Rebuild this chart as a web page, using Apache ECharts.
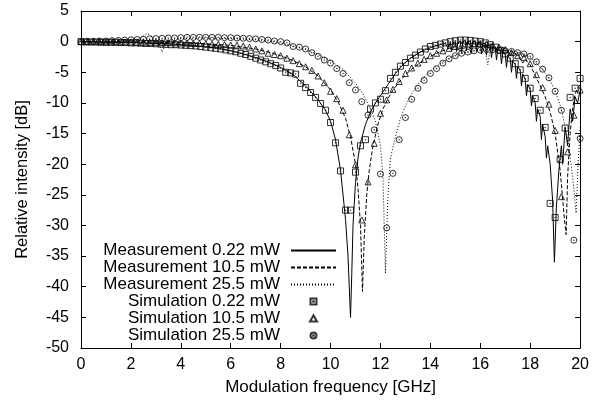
<!DOCTYPE html>
<html><head><meta charset="utf-8">
<script src="https://cdn.jsdelivr.net/npm/echarts@6/dist/echarts.min.js"></script>
<style>html,body{margin:0;padding:0;background:#fff}#c{width:592px;height:403px}</style>
</head><body><div id="c"></div>
<script>
// ---------- data ----------
const xTicks = [0,2,4,6,8,10,12,14,16,18,20];
const yTicks = [5,0,-5,-10,-15,-20,-25,-30,-35,-40,-45,-50];
const seriesNames = ['Measurement 0.22 mW','Measurement 10.5 mW','Measurement 25.5 mW','Simulation 0.22 mW','Simulation 10.5 mW','Simulation 25.5 mW'];

// Measurement 0.22 mW  [GHz, dB]
const meas022 = [[0,0],[0.5,-0.05],[1,-0.1],[1.5,-0.1],[2,-0.15],[2.5,-0.2],[3,-0.3],[3.5,-0.35],[4,-0.5],[4.5,-0.6],[5,-0.85],[5.5,-1.1],[6,-1.5],[6.5,-2.0],[7,-2.6],[7.5,-3.3],[8,-4.2],[8.5,-5.4],[9,-7.2],[9.5,-9.5],[9.8,-11.2],[10,-13],[10.2,-16],[10.4,-21],[10.6,-29],[10.7,-35],[10.8,-45],[10.85,-38],[10.9,-30],[11.0,-23],[11.1,-19],[11.2,-16.5],[11.4,-13.5],[11.6,-11.5],[11.8,-10],[12,-8.8],[12.2,-7.6],[12.4,-6.4],[12.6,-5.2],[12.8,-4.2],[13,-3.4],[13.2,-2.7],[13.4,-2.2],[13.6,-1.7],[13.8,-1.3],[14,-1.0],[14.2,-0.7],[14.4,-0.5],[14.6,-0.3],[14.7,-1.0],[14.8,-0.1],[14.85,-1.5],[14.9,-0.2],[15.0,0],[15.05,-1.6],[15.1,-0.2],[15.2,0.1],[15.25,-1.8],[15.3,0],[15.4,0.2],[15.45,-1.5],[15.5,0],[15.6,0.1],[15.65,-1.9],[15.7,0],[15.8,0],[15.85,-1.6],[15.9,-0.1],[16.0,-0.1],[16.05,-2.0],[16.1,-0.3],[16.2,-0.3],[16.25,-2.2],[16.3,-0.5],[16.4,-0.6],[16.45,-2.6],[16.5,-0.9],[16.6,-1.0],[16.65,-3.0],[16.7,-1.3],[16.8,-1.5],[16.85,-3.6],[16.9,-1.8],[17.0,-2.1],[17.05,-4.2],[17.1,-2.4],[17.2,-2.8],[17.25,-5.0],[17.3,-3.2],[17.4,-3.7],[17.45,-6.0],[17.5,-4.1],[17.6,-4.7],[17.65,-7.2],[17.7,-5.3],[17.8,-6.1],[17.85,-8.8],[17.9,-7.0],[18.0,-7.8],[18.05,-10.5],[18.1,-8.8],[18.2,-10],[18.25,-13],[18.3,-11],[18.4,-12.2],[18.45,-16],[18.5,-13.5],[18.6,-15.5],[18.65,-19],[18.7,-17],[18.8,-20],[18.9,-26],[18.97,-36],[19.05,-27],[19.15,-21],[19.25,-17],[19.3,-20],[19.4,-14],[19.5,-17],[19.6,-11],[19.7,-13],[19.8,-9],[19.9,-10],[20,-8]];

// Measurement 10.5 mW
const meas105 = [[0,0],[1,0],[2,-0.05],[3,-0.1],[4,-0.2],[5,-0.35],[6,-0.6],[6.5,-0.9],[7,-1.2],[7.5,-1.7],[8,-2.3],[8.5,-3.1],[9,-4.1],[9.5,-5.6],[10,-7.9],[10.3,-9.8],[10.6,-12.5],[10.8,-15.5],[11.0,-20],[11.1,-24],[11.2,-30],[11.28,-40.8],[11.35,-32],[11.45,-25],[11.55,-21],[11.7,-17],[11.9,-13.5],[12.1,-11],[12.3,-9.3],[12.5,-7.9],[12.75,-6.6],[13,-5.4],[13.25,-4.5],[13.5,-3.7],[13.75,-3.0],[14,-2.4],[14.25,-1.9],[14.5,-1.5],[14.75,-1.1],[15,-0.8],[15.2,-1.5],[15.3,-0.5],[15.5,-0.4],[15.6,-1.2],[15.7,-0.3],[16,-0.2],[16.2,-1],[16.3,-0.3],[16.5,-0.5],[16.7,-1.5],[16.8,-0.8],[17,-1.2],[17.2,-2.2],[17.3,-1.6],[17.5,-2.2],[17.7,-3.5],[17.8,-2.9],[18,-3.8],[18.2,-5.5],[18.4,-7.2],[18.6,-9],[18.8,-11.5],[19,-15],[19.2,-21],[19.35,-28],[19.44,-31.5],[19.5,-22],[19.6,-15],[19.7,-11],[19.8,-8.5],[19.9,-7.6],[20,-7]];

// Measurement 25.5 mW
const meas255 = [[0,0],[0.5,0],[1,0.1],[1.5,0.1],[2,0.2],[2.3,0.4],[2.5,0.9],[2.65,1.3],[2.8,1.0],[3.0,0.3],[3.15,-0.5],[3.25,-1.7],[3.35,-0.8],[3.5,0],[3.7,0.4],[4,0.5],[5,0.6],[6,0.5],[6.5,0.4],[7,0.3],[7.5,0.1],[8,-0.2],[8.5,-0.7],[9,-1.3],[9.5,-2.1],[10,-3.1],[10.5,-4.5],[11,-6.8],[11.3,-8.5],[11.6,-11],[11.8,-13],[12.0,-17],[12.1,-22],[12.2,-37.8],[12.3,-25],[12.4,-19],[12.6,-15.5],[12.8,-12.5],[13,-10.5],[13.25,-8.5],[13.5,-7],[13.75,-5.8],[14,-4.8],[14.25,-4],[14.5,-3.3],[14.75,-2.7],[15,-2.2],[15.25,-1.9],[15.5,-1.7],[15.75,-1.5],[16,-1.4],[16.2,-1.3],[16.3,-3.8],[16.4,-1.3],[16.75,-1.3],[17,-1.4],[17.25,-1.5],[17.5,-1.7],[17.75,-2.1],[18,-2.6],[18.25,-3.5],[18.5,-4.6],[18.75,-6],[19,-8],[19.25,-11],[19.5,-16],[19.7,-22],[19.84,-28],[19.92,-20],[20,-14]];

// Simulation 0.22 mW (0.2 GHz steps)
const simFreqA = [0,0.2,0.4,0.6,0.8,1,1.2,1.4,1.6,1.8,2,2.2,2.4,2.6,2.8,3,3.2,3.4,3.6,3.8,4,4.2,4.4,4.6,4.8,5,5.2,5.4,5.6,5.8,6,6.2,6.4,6.6,6.8,7,7.2,7.4,7.6,7.8,8,8.2,8.4,8.6,8.8,9,9.2,9.4,9.6,9.8,10,10.2,10.4,10.6,10.8,11,11.2,11.4,11.6,11.8,12,12.2,12.4,12.6,12.8,13,13.2,13.4,13.6,13.8,14,14.2,14.4,14.6,14.8,15,15.2,15.4,15.6,15.8,16,16.2,16.4,16.6,16.8,17,17.2,17.4,17.6,17.8,18,18.2,18.4,18.6,18.8,19,19.2,19.4,19.6,19.8,20];
const sim022 = [0,-0.05,-0.05,-0.05,-0.1,-0.1,-0.1,-0.1,-0.15,-0.15,-0.2,-0.2,-0.25,-0.3,-0.3,-0.35,-0.4,-0.45,-0.5,-0.5,-0.55,-0.6,-0.65,-0.7,-0.8,-0.9,-1.0,-1.1,-1.2,-1.35,-1.5,-1.65,-1.9,-2.1,-2.4,-2.7,-3.0,-3.3,-3.6,-3.9,-4.3,-5.0,-5.1,-5.3,-6.8,-7.5,-8.3,-9.1,-10.1,-11.2,-13.2,-16.5,-21.1,-27.5,-27.5,-21.3,-17.0,-16.0,-11.0,-10.0,-9.4,-8.0,-6.0,-5.0,-4.0,-3.4,-2.7,-2.2,-1.7,-1.2,-0.8,-0.6,-0.4,-0.2,0,0.15,0.25,0.25,0.2,0.1,0,-0.2,-0.5,-0.9,-1.4,-2.0,-2.7,-3.6,-4.6,-6.0,-7.6,-9.3,-11.2,-14.0,-26.4,-28.7,-19.2,-14.1,-9.1,-7.6,-6.0];

// Simulation 10.5 mW and 25.5 mW (0.25 GHz steps)
const simFreqB = [0,0.25,0.5,0.75,1,1.25,1.5,1.75,2,2.25,2.5,2.75,3,3.25,3.5,3.75,4,4.25,4.5,4.75,5,5.25,5.5,5.75,6,6.25,6.5,6.75,7,7.25,7.5,7.75,8,8.25,8.5,8.75,9,9.25,9.5,9.75,10,10.25,10.5,10.75,11,11.25,11.5,11.75,12,12.25,12.5,12.75,13,13.25,13.5,13.75,14,14.25,14.5,14.75,15,15.25,15.5,15.75,16,16.25,16.5,16.75,17,17.25,17.5,17.75,18,18.25,18.5,18.75,19,19.25,19.5,19.75,20];
const sim105 = [0,0,0,0,-0.05,-0.05,-0.05,-0.05,-0.05,-0.1,-0.1,-0.1,-0.1,-0.15,-0.15,-0.2,-0.2,-0.25,-0.3,-0.3,-0.35,-0.4,-0.45,-0.5,-0.55,-0.55,-0.7,-0.9,-1.2,-1.5,-1.9,-2.1,-2.3,-2.7,-3.1,-3.6,-4.1,-4.7,-5.6,-6.7,-8.1,-9.3,-11.2,-15.2,-20.1,-29.1,-22.9,-16.6,-11.7,-9.5,-7.8,-6.5,-5.2,-4.3,-3.5,-2.9,-2.3,-1.9,-1.5,-1.1,-0.8,-0.6,-0.4,-0.3,-0.3,-0.4,-0.6,-0.9,-1.3,-1.8,-2.3,-2.6,-3.6,-5.4,-7.5,-10.2,-14.5,-25.3,-18,-12,-7.9];
const sim255 = [0,0.05,0.05,0.1,0.1,0.15,0.2,0.25,0.3,0.35,0.4,0.45,0.5,0.55,0.6,0.6,0.65,0.7,0.7,0.7,0.7,0.7,0.7,0.65,0.65,0.6,0.55,0.5,0.45,0.35,0.25,0.1,0,-0.2,-0.8,-0.9,-1.2,-1.8,-2.4,-3.0,-3.5,-4.4,-5.2,-6.7,-7.9,-9.8,-12.0,-14.4,-21.6,-30.4,-21.5,-16.0,-12.4,-9.4,-7.6,-6.3,-5.2,-4.4,-3.5,-2.8,-2.3,-1.9,-1.7,-1.5,-1.4,-1.3,-1.3,-1.4,-1.5,-1.6,-1.8,-2.0,-2.4,-3.3,-4.5,-5.9,-8.1,-11.2,null,-32.4,-15.8];

// ---------- chart ----------
const font = 'Liberation Sans, Arial, sans-serif';
function pairs(fx, vy){ return fx.map((f,i)=>[f, vy[i]]); }
const chart = echarts.init(document.getElementById('c'), null, {renderer:'canvas'});
const axisCommon = {
  axisLine:{show:true, onZero:false, lineStyle:{color:'#000', width:1}},
  axisTick:{show:true, inside:true, length:5, lineStyle:{color:'#000', width:1}},
  splitLine:{show:false}
};
const mk = (sym,size)=>({symbol:sym, symbolSize:size, itemStyle:{color:'rgba(0,0,0,0)', borderColor:'#000', borderWidth:1}});
const hideSym = {color:'rgba(0,0,0,0)', borderColor:'rgba(0,0,0,0)', borderWidth:0};
// legend icons: 45x7 box (invisible corner moves keep the marker unstretched)
const box = 'M0,0L0,0M45,7L45,7';
const iconSquare = 'path://' + box + 'M19.5,0.5L25.5,0.5L25.5,6.5L19.5,6.5ZM22.2,3.2L22.8,3.2L22.8,3.8L22.2,3.8Z';
const iconTri = 'path://' + box + 'M22.5,0.3L26,6.5L19,6.5Z';
const iconCircle = 'path://' + box + 'M19.5,3.5A3,3 0 1,0 25.5,3.5A3,3 0 1,0 19.5,3.5ZM22.2,3.2L22.8,3.2L22.8,3.8L22.2,3.8Z';
chart.setOption({
  animation:false,
  backgroundColor:'#fff',
  grid:{left:81, right:11, top:11, bottom:55, containLabel:false},
  xAxis:[
    Object.assign({type:'value', min:xTicks[0], max:xTicks[xTicks.length-1], interval:2, position:'bottom',
      name:'Modulation frequency [GHz]', nameLocation:'middle', nameGap:31,
      nameTextStyle:{fontFamily:font, fontSize:17, color:'#000'},
      axisLabel:{fontFamily:font, fontSize:16, color:'#000', margin:9}}, axisCommon),
    Object.assign({type:'value', min:xTicks[0], max:xTicks[xTicks.length-1], interval:2, position:'top',
      axisLabel:{show:false}}, axisCommon)
  ],
  yAxis:[
    Object.assign({type:'value', min:yTicks[yTicks.length-1], max:yTicks[0], interval:5, position:'left',
      name:'Relative intensity [dB]', nameLocation:'middle', nameGap:50,
      nameTextStyle:{fontFamily:font, fontSize:16.5, color:'#000'},
      axisLabel:{fontFamily:font, fontSize:16, color:'#000', margin:12}}, axisCommon),
    Object.assign({type:'value', min:yTicks[yTicks.length-1], max:yTicks[0], interval:5, position:'right',
      axisLabel:{show:false}}, axisCommon)
  ],
  legend:{
    data:[
      {name:seriesNames[0], itemStyle:hideSym},
      {name:seriesNames[1], itemStyle:hideSym},
      {name:seriesNames[2], itemStyle:hideSym},
      {name:seriesNames[3], icon:iconSquare},
      {name:seriesNames[4], icon:iconTri},
      {name:seriesNames[5], icon:iconCircle}
    ],
    orient:'vertical', align:'right', right:255, top:242, padding:0,
    itemWidth:45, itemHeight:7, itemGap:0, selectedMode:false,
    textStyle:{fontFamily:font, fontSize:17, lineHeight:16.7, color:'#000', padding:[0,6,0,0]}
  },
  series:[
    {name:seriesNames[0], type:'line', data:meas022, symbol:'none', showSymbol:false, lineStyle:{color:'#000', width:1, type:'solid'}, itemStyle:{color:'#000'}},
    {name:seriesNames[1], type:'line', data:meas105, symbol:'none', showSymbol:false, lineStyle:{color:'#000', width:1, type:[4,2]}, itemStyle:{color:'#000'}},
    {name:seriesNames[2], type:'line', data:meas255, symbol:'none', showSymbol:false, lineStyle:{color:'#000', width:1, type:[1,2]}, itemStyle:{color:'#000'}},
    Object.assign({name:seriesNames[3], type:'scatter', data:pairs(simFreqA, sim022)}, mk('rect',6)),
    Object.assign({name:seriesNames[4], type:'scatter', data:pairs(simFreqB, sim105)}, mk('triangle',6)),
    Object.assign({name:seriesNames[5], type:'scatter', data:pairs(simFreqB, sim255)}, mk('circle',6)),
    {name:'dotsA', type:'scatter', data:pairs(simFreqA, sim022), symbol:'circle', symbolSize:1.5, itemStyle:{color:'#000'}, silent:true},
    {name:'dotsC', type:'scatter', data:pairs(simFreqB, sim255), symbol:'circle', symbolSize:1.5, itemStyle:{color:'#000'}, silent:true}
  ]
});
</script></body></html>
